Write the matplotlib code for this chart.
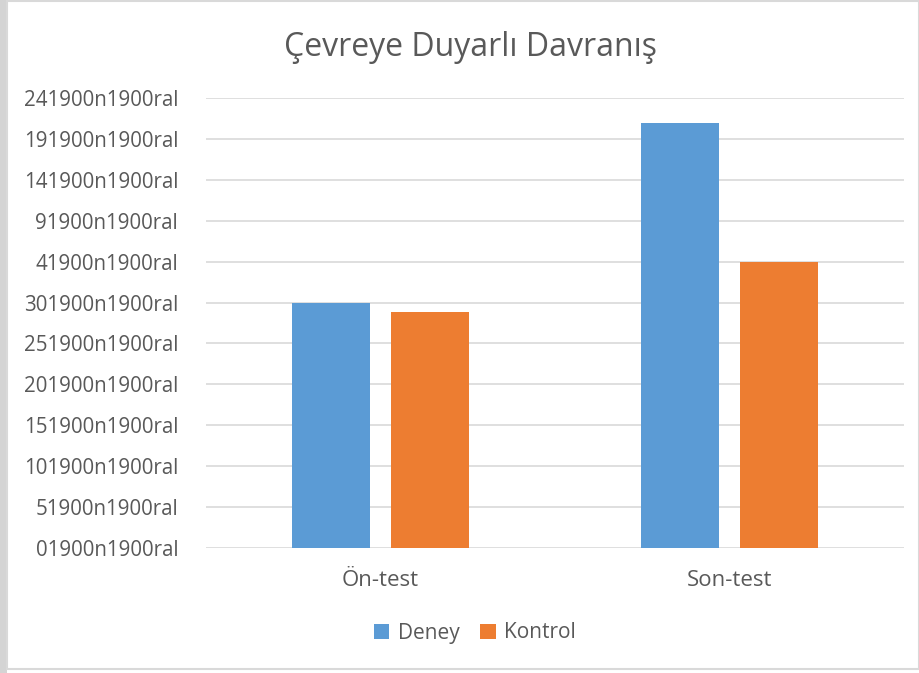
import numpy as np
import matplotlib
matplotlib.use("Agg")
import matplotlib.pyplot as plt
from matplotlib.patches import Rectangle

# data (values read in units of the y tick spacing)
categories = ["Ön-test", "Son-test"]
series_names = ["Deney", "Kontrol"]
deney = [6.0, 10.38]
kontrol = [5.78, 6.98]
tick_labels = ["01900n1900ral", "51900n1900ral", "101900n1900ral", "151900n1900ral",
               "201900n1900ral", "251900n1900ral", "301900n1900ral", "41900n1900ral",
               "91900n1900ral", "141900n1900ral", "191900n1900ral", "241900n1900ral"]

blue = "#5B9BD5"
orange = "#ED7D31"
text_col = "#595959"
grid_col = "#D9D9D9"

plt.rcParams['font.family'] = ['Open Sans', 'DejaVu Sans']

fig = plt.figure(figsize=(9.2, 6.73), dpi=100)

# chart frame: grey strip on the left and thin border
fig.patches.append(Rectangle((0, 0), 7 / 920, 1, transform=fig.transFigure,
                             facecolor="#D4D4D4", edgecolor="none", zorder=0))
fig.patches.append(Rectangle((7 / 920, 4 / 673), 1 - 8 / 920, 1 - 5 / 673,
                             transform=fig.transFigure, facecolor="none",
                             edgecolor="#D9D9D9", linewidth=1.5, zorder=0))

ax = fig.add_axes([206 / 920, 1 - 548 / 673, 698 / 920, 450 / 673])

x = np.arange(len(categories))
w = 0.224
off = 0.142
ax.bar(x - off, deney, width=w, color=blue, label=series_names[0], zorder=3)
ax.bar(x + off, kontrol, width=w, color=orange, label=series_names[1], zorder=3)

ax.set_xlim(-0.5, 1.5)
ax.set_ylim(0, 11)
ax.set_yticks(range(len(tick_labels)))
ax.set_yticklabels(tick_labels)
ax.set_xticks(x)
ax.set_xticklabels(categories)
ax.tick_params(axis="both", length=0, colors=text_col)
ax.tick_params(axis="y", pad=20, labelsize=14.8)
ax.tick_params(axis="x", pad=16, labelsize=16)
ax.yaxis.grid(True, color=grid_col, linewidth=1.2, zorder=0)
ax.set_axisbelow(True)
for s in ax.spines.values():
    s.set_visible(False)

fig.text(470 / 920, 1 - 47 / 673, "Çevreye Duyarlı Davranış", ha="center", va="center",
         fontsize=23, color=text_col)

fig.legend(loc="center", bbox_to_anchor=(475 / 920, 1 - 633 / 673), ncol=2, frameon=False,
           fontsize=15, labelcolor=text_col, handlelength=0.75, handleheight=0.75,
           handletextpad=0.4, columnspacing=1.0)

fig.savefig("out.png", dpi=100)
